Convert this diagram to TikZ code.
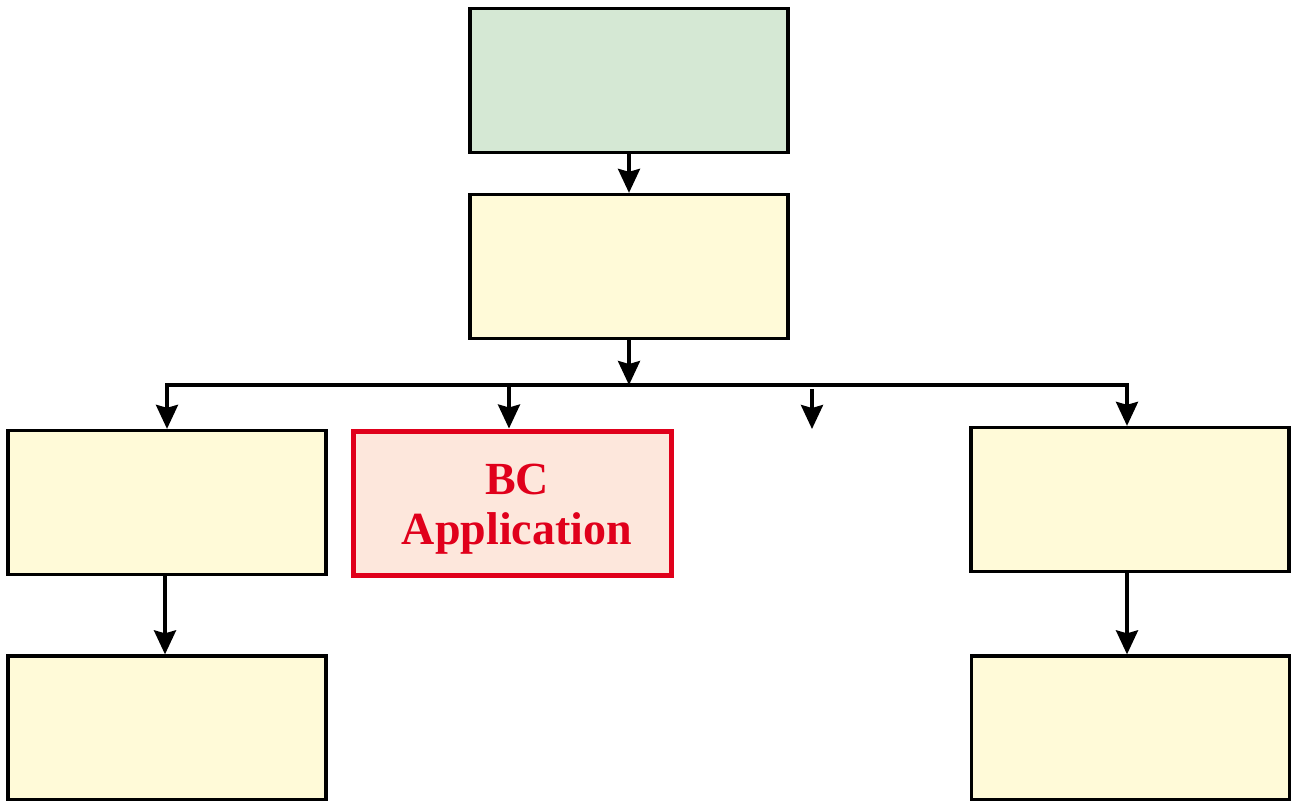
\documentclass[tikz,border=0pt]{standalone}
\usepackage{fontspec}
\setmainfont{Liberation Serif}
\usetikzlibrary{arrows.meta}
\definecolor{gfill}{HTML}{D5E8D4}
\definecolor{yfill}{HTML}{FFFAD8}
\definecolor{rfill}{HTML}{FDE7DC}
\definecolor{rline}{HTML}{E0001B}
\tikzset{
  box/.style={draw=black, line width=3.3pt, minimum width=318pt, minimum height=144pt, inner sep=0pt},
  ybox/.style={box, fill=yfill},
  gbox/.style={box, fill=gfill},
  rbox/.style={box, draw=rline, line width=5pt, fill=rfill},
  rtext/.style={text=rline, align=center, font=\fontsize{46}{50}\selectfont\bfseries},
  arr/.style={line width=3.5pt, -{Stealth[length=24pt,width=22pt,inset=3pt]}}
}
\begin{document}
\begin{tikzpicture}[x=1pt,y=-1pt]
\useasboundingbox (0,0) rectangle (1294,801);
\node[gbox] (top) at (629,80.5) {};
\node[ybox] (mid) at (629,266.5) {};
\node[ybox] (l1) at (167,502.5) {};
\node[rbox, label={[rtext, xshift=4.5pt, yshift=-6pt]center:{BC\\Application}}] (bc) at (512.5,503) {};
\node[ybox] (r1) at (1130,499.5) {};
\node[ybox] (l2) at (167,728) {};
\node[ybox] (r2) at (1130.5,728) {};
\coordinate (J) at (629,385);
\coordinate (f1) at (812,389);
\coordinate (f2) at (812,429);
\draw[arr] (top.south) -- (mid.north);
\draw[arr] (mid.south) -- (J);
\draw[arr] (J) -| (l1.north);
\draw[arr] (J) -| ([xshift=-3pt]r1.north);
\draw[arr] ([xshift=-3.5pt]bc.north |- J) -- ([xshift=-3.5pt]bc.north);
\draw[arr] (f1) -- (f2);
\draw[arr] ([xshift=-2pt]l1.south) -- ([xshift=-2pt]l1.south |- l2.north);
\draw[arr] ([xshift=-3pt]r1.south) -- ([xshift=-3pt]r1.south |- r2.north);
\end{tikzpicture}
\end{document}
